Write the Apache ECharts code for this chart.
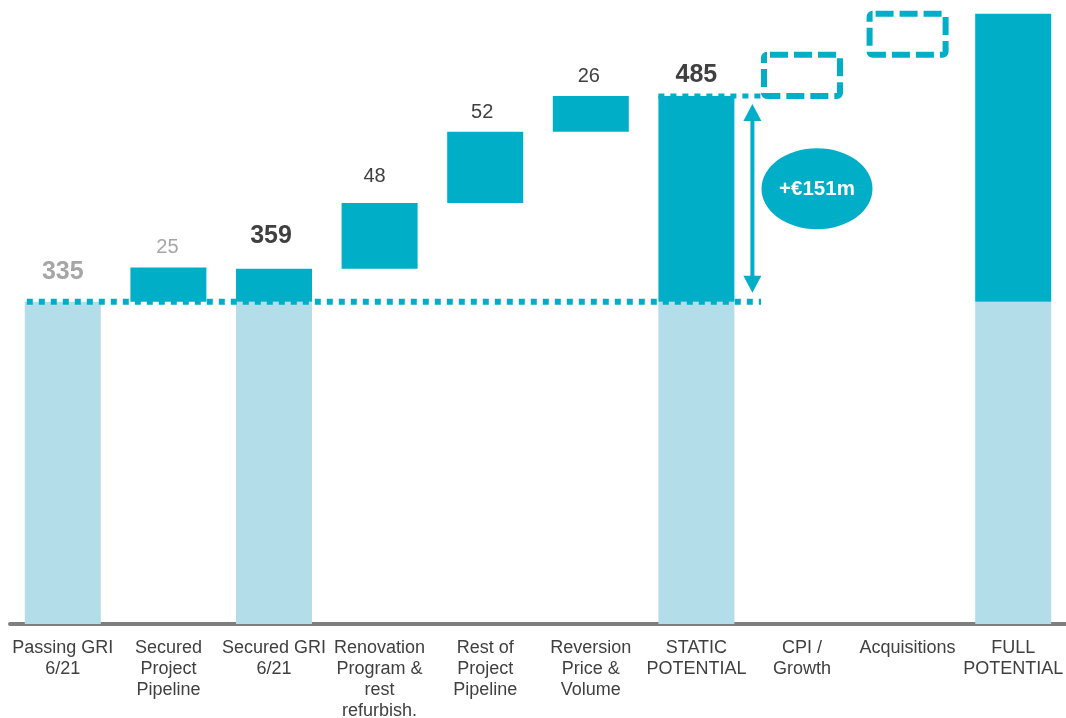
<!DOCTYPE html>
<html>
<head>
<meta charset="utf-8">
<script src="https://cdn.jsdelivr.net/npm/echarts@6/dist/echarts.min.js"></script>
<style>
  html, body { margin: 0; padding: 0; background: #ffffff; }
  #chart { width: 1066px; height: 718px; }
</style>
</head>
<body>
<div id="chart"></div>
<script>
// Gross rental income bridge (EUR m)
const categories = [
  'Passing GRI\n6/21',
  'Secured\nProject\nPipeline',
  'Secured GRI\n6/21',
  'Renovation\nProgram &\nrest\nrefurbish.',
  'Rest of\nProject\nPipeline',
  'Reversion\nPrice &\nVolume',
  'STATIC\nPOTENTIAL',
  'CPI /\nGrowth',
  'Acquisitions',
  'FULL\nPOTENTIAL'
];
// Subtotal columns (null where the column is a step)
const totals = [335, null, 359, null, null, null, 485, null, null, 545];
// Step increments (null where the column is a subtotal)
const steps = [null, 25, null, 48, 52, 26, null, 30, 30, null];
// Text printed above the columns
const valueLabels = ['335', '25', '359', '48', '52', '26', '485', '', '', ''];
const upliftLabel = '+€151m';

const TEAL = '#00AEC7';
const LIGHT = '#B2DDE9';
const GREY = '#A6A6A6';
const DARK = '#404040';
const FONT = "'Liberation Sans', Arial, sans-serif";
const BAR_W = 76;

// Columns still to be quantified are drawn as dashed outlines
const outlinedCols = new Set([7, 8]);

// Label styling per column
const labelStyles = {
  0: { size: 25, bold: true, color: GREY, d: 17, dx: 0 },
  1: { size: 20, bold: false, color: GREY, d: 9.5, dx: -1 },
  2: { size: 25, bold: true, color: DARK, d: 20.5, dx: -3 },
  3: { size: 20, bold: false, color: DARK, d: 16.5, dx: -5 },
  4: { size: 20, bold: false, color: DARK, d: 9.5, dx: -3 },
  5: { size: 20, bold: false, color: DARK, d: 10, dx: -2 },
  6: { size: 25, bold: true, color: DARK, d: 8, dx: 0 }
};

const baseline = totals[0];
const lowerData = [];
const upperData = [];
const outlines = [];
let running = 0;
categories.forEach((c, i) => {
  let lowerVal, lowerColor, upperVal;
  if (totals[i] != null) {
    lowerVal = baseline;
    lowerColor = LIGHT;
    upperVal = totals[i] - baseline;
    running = totals[i];
  } else {
    lowerVal = running;
    lowerColor = 'rgba(0,0,0,0)';
    upperVal = steps[i];
    running += steps[i];
  }
  lowerData.push({ value: lowerVal, itemStyle: { color: lowerColor } });

  const item = { value: upperVal };
  if (outlinedCols.has(i)) {
    // kept in the stack for spacing; its outline is drawn below
    item.itemStyle = { color: 'rgba(0,0,0,0)' };
    outlines.push({ i: i, from: running - upperVal, to: running });
  } else {
    item.itemStyle = { color: TEAL };
  }
  const ls = labelStyles[i];
  if (ls && valueLabels[i]) {
    item.label = {
      show: true,
      position: 'top',
      distance: ls.d,
      offset: [ls.dx, 0],
      formatter: valueLabels[i],
      fontFamily: FONT,
      fontSize: ls.size,
      lineHeight: ls.size,
      fontWeight: ls.bold ? 'bold' : 'normal',
      color: ls.color
    };
  }
  upperData.push(item);
});

const chart = echarts.init(document.getElementById('chart'), null, { renderer: 'canvas' });

chart.setOption({
  animation: false,
  backgroundColor: '#ffffff',
  grid: { left: 10, right: 0, top: 0, bottom: 94, containLabel: false, outerBoundsMode: 'none' },
  xAxis: {
    type: 'category',
    data: categories,
    axisTick: { show: false },
    axisLine: { show: true, lineStyle: { color: '#7F7F7F', width: 4 } },
    axisLabel: {
      interval: 0,
      margin: 14,
      fontFamily: FONT,
      fontSize: 18,
      lineHeight: 21,
      color: DARK,
      align: 'center'
    },
    splitLine: { show: false }
  },
  yAxis: {
    type: 'value',
    min: 100,
    max: 555,
    show: false,
    splitLine: { show: false }
  },
  series: [
    {
      name: 'lower',
      type: 'bar',
      stack: 'bridge',
      barWidth: BAR_W,
      data: lowerData,
      silent: true
    },
    {
      name: 'upper',
      type: 'bar',
      stack: 'bridge',
      barWidth: BAR_W,
      data: upperData,
      silent: true
    }
  ]
});

// Annotations: reference lines, outlined columns, uplift arrow and bubble
const px = (i, v) => chart.convertToPixel({ xAxisIndex: 0, yAxisIndex: 0 }, [i, v]);
const half = BAR_W / 2;
const xPass = px(0, baseline)[0];
const yBase = px(0, baseline)[1];
const xStatic = px(6, totals[6])[0];
const yStatic = px(6, totals[6])[1];
const xCpi = px(7, totals[6])[0];
const lineEnd = xCpi - half - 3;
const arrowX = xStatic + half + 18;
const bubbleY = (yBase + yStatic) / 2 - 10;

const graphics = [
  {
    type: 'line', z: 100,
    shape: { x1: xPass - half + 2, y1: yBase, x2: lineEnd, y2: yBase },
    style: { stroke: TEAL, lineWidth: 6, lineDash: [6, 6] }
  },
  {
    type: 'line', z: 100,
    shape: { x1: xStatic - half, y1: yStatic, x2: lineEnd, y2: yStatic },
    style: { stroke: TEAL, lineWidth: 5, lineDash: [6, 6] }
  },
  {
    type: 'line', z: 100,
    shape: { x1: arrowX, y1: yStatic + 20, x2: arrowX, y2: yBase - 20 },
    style: { stroke: TEAL, lineWidth: 4 }
  },
  {
    type: 'polygon', z: 100,
    shape: { points: [[arrowX, yStatic + 8], [arrowX - 9, yStatic + 25], [arrowX + 9, yStatic + 25]] },
    style: { fill: TEAL }
  },
  {
    type: 'polygon', z: 100,
    shape: { points: [[arrowX, yBase - 9], [arrowX - 9, yBase - 26], [arrowX + 9, yBase - 26]] },
    style: { fill: TEAL }
  },
  {
    type: 'ellipse', z: 100,
    shape: { cx: xCpi + 15, cy: bubbleY, rx: 55.5, ry: 40.5 },
    style: { fill: TEAL }
  },
  {
    type: 'text', z: 101,
    x: xCpi + 15, y: bubbleY,
    style: {
      text: upliftLabel,
      fill: '#ffffff',
      font: 'bold 20.5px ' + FONT,
      align: 'center',
      verticalAlign: 'middle'
    }
  }
];

outlines.forEach(o => {
  const p0 = px(o.i, o.from);
  const p1 = px(o.i, o.to);
  graphics.push({
    type: 'rect', z: 100,
    shape: { x: p0[0] - half, y: p1[1], width: BAR_W, height: p0[1] - p1[1], r: 3 },
    style: { fill: null, stroke: TEAL, lineWidth: 6, lineDash: [18, 6], lineDashOffset: 21 }
  });
});

chart.setOption({ graphic: graphics });
</script>
</body>
</html>
